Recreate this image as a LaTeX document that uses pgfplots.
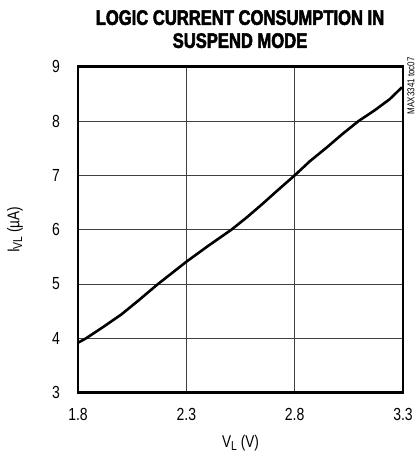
\documentclass[border=0pt]{standalone}
\usepackage{fontspec}
\setmainfont{Liberation Sans}[FakeStretch=0.8]
\newfontfamily\titlefont{Liberation Sans Bold}[FakeStretch=0.79, FakeBold=2.5]
\usepackage{pgfplots}
\pgfplotsset{compat=1.18}

\begin{document}
\begin{tikzpicture}
\begin{axis}[
    scale only axis,
    width=325bp, height=326bp,
    xmin=1.8, xmax=3.3,
    ymin=3, ymax=9,
    xtick={1.8,2.3,2.8,3.3},
    ytick={3,4,5,6,7,8,9},
    xticklabels={1.8,2.3,2.8,3.3},
    major tick length=0pt,
    grid=major,
    grid style={line width=1bp, black!75},
    axis line style={line width=2.6bp, black},
    /pgf/number format/assume math mode=true,
    tick label style={font=\fontsize{17.5bp}{20bp}\selectfont, inner sep=0pt},
    yticklabel style={anchor=east, xshift=-18bp},
    xticklabel style={anchor=north, yshift=-15.5bp},
    xlabel={V\raisebox{-0.3ex}{\fontsize{13bp}{14bp}\selectfont L} (V)},
    ylabel={I\raisebox{-0.3ex}{\fontsize{13bp}{14bp}\selectfont VL} (µA)},
    label style={font=\fontsize{17bp}{20bp}\selectfont, inner sep=0pt},
    xlabel style={at={(axis description cs:0.5,-0.1545)}, anchor=center},
    ylabel style={at={(axis description cs:-0.194,0.5)}, anchor=center},
    clip=false,
]
\addplot[black, line width=2.6bp] coordinates {
    (1.80,3.92) (1.837,4.00) (1.92,4.22) (2.00,4.44) (2.08,4.70) (2.169,5.00)
    (2.23,5.19) (2.30,5.41) (2.40,5.70) (2.508,6.00) (2.58,6.23) (2.65,6.47)
    (2.72,6.72) (2.80,7.00) (2.87,7.26) (2.95,7.52) (3.02,7.76) (3.095,8.00)
    (3.17,8.20) (3.238,8.40) (3.295,8.62)
};
\end{axis}
\node[align=center, font=\titlefont\fontsize{21bp}{23bp}\selectfont, anchor=north, inner sep=0pt]
    at (162bp,382.7bp) {LOGIC CURRENT CONSUMPTION IN\\SUSPEND MODE};
\node[rotate=90, anchor=east, inner sep=0pt, font=\fontsize{10bp}{11bp}\selectfont]
    at (333bp,335.7bp) {MAX3341 toc07};
\pgfresetboundingbox
\path (-78bp,-63.3bp) rectangle (337bp,392.7bp);
\end{tikzpicture}
\end{document}
